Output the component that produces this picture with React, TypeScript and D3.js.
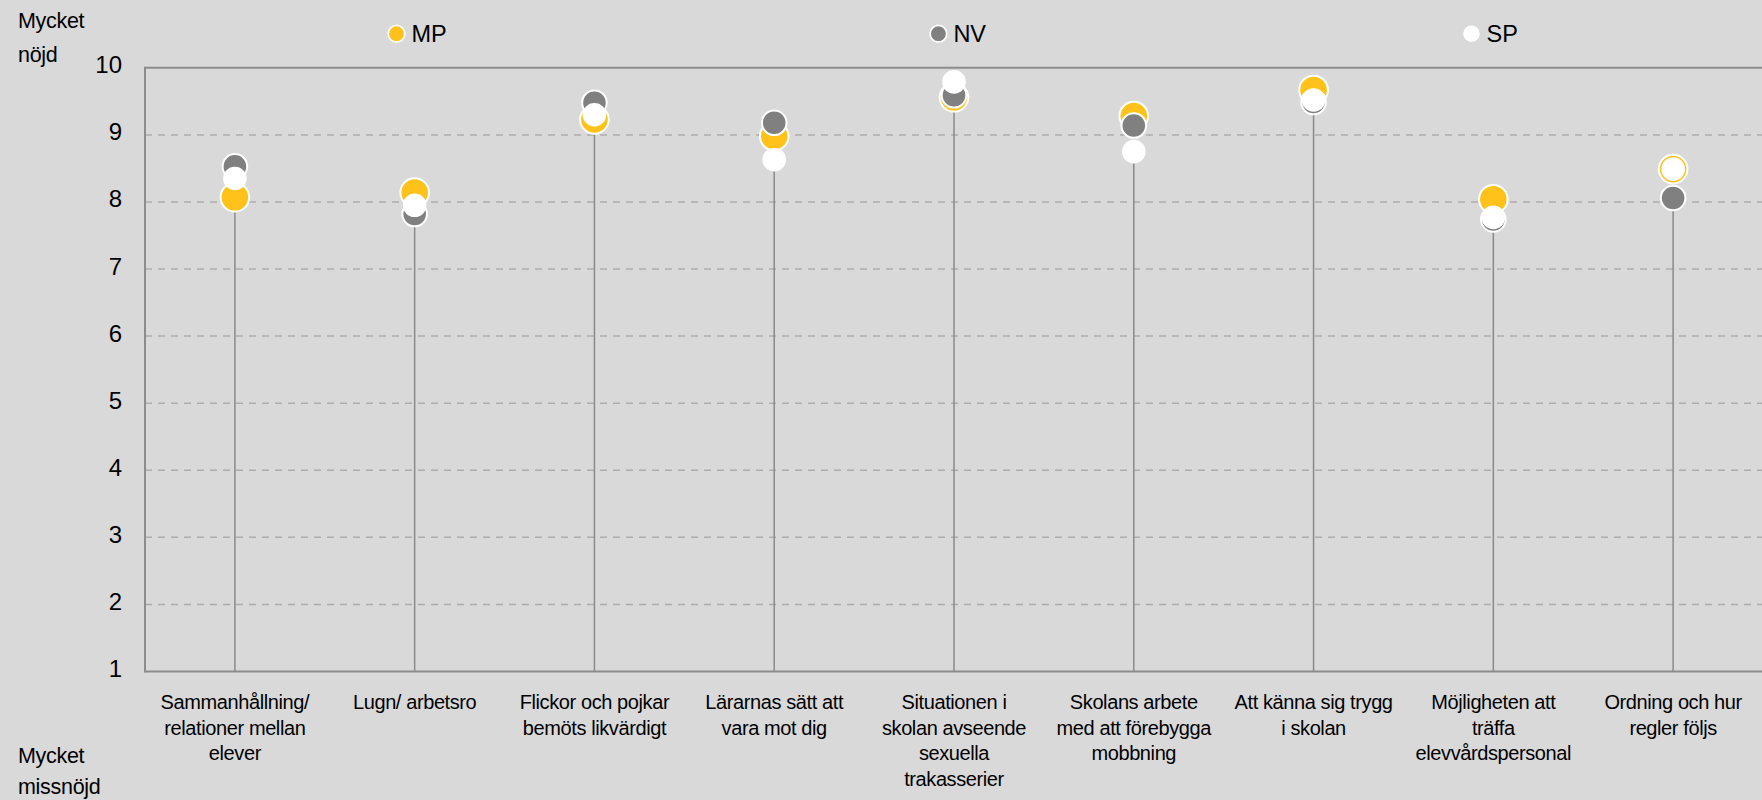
import React from "react";
import * as d3 from "d3";

const categories: string[][] = [
  ["Sammanhållning/", "relationer mellan", "elever"],
  ["Lugn/ arbetsro"],
  ["Flickor och pojkar", "bemöts likvärdigt"],
  ["Lärarnas sätt att", "vara mot dig"],
  ["Situationen i", "skolan avseende", "sexuella", "trakasserier"],
  ["Skolans arbete", "med att förebygga", "mobbning"],
  ["Att känna sig trygg", "i skolan"],
  ["Möjligheten att", "träffa", "elevvårdspersonal"],
  ["Ordning och hur", "regler följs"],
];

const mpValues = [8.07, 8.14, 9.23, 8.98, 9.56, 9.28, 9.67, 8.04, 8.49];
const nvValues = [8.53, 7.82, 9.48, 9.18, 9.59, 9.14, 9.49, 7.74, 8.06];
const spValues = [8.35, 7.95, 9.3, 8.63, 9.79, 8.75, 9.52, 7.77, 8.49];

const yTicks = [1, 2, 3, 4, 5, 6, 7, 8, 9, 10];

const seriesNames = ["MP", "NV", "SP"];
const seriesColors = ["#FFC21A", "#808080", "#FFFFFF"];

const W = 1762;
const H = 800;
const FONT = "'Liberation Sans', Arial, Helvetica, sans-serif";

export default function App() {
  const left = 145;
  const right = 1763;
  const top = 67.8;
  const bottom = 671.5;

  const keys = categories.map((c, i) => String(i));
  const x = d3.scaleBand<string>().domain(keys).range([left, right]).padding(0);
  const y = d3.scaleLinear().domain([1, 10]).range([bottom, top]);

  const series = [
    { name: seriesNames[0], values: mpValues, fill: seriesColors[0], r: 14.3, sw: 2 },
    { name: seriesNames[1], values: nvValues, fill: seriesColors[1], r: 12.3, sw: 2 },
    { name: seriesNames[2], values: spValues, fill: seriesColors[2], r: 11.8, sw: 0 },
  ];

  const legendX = [396.5, 938.4, 1471.5];

  return (
    <svg
      width={W}
      height={H}
      style={{ position: "absolute", left: 0, top: 0, display: "block" }}
      fontFamily={FONT}
    >
      <rect x={0} y={0} width={W} height={H} fill="#D9D9D9" />

      {/* gridlines */}
      {yTicks
        .filter((t) => t > 1 && t < 10)
        .map((t) => (
          <line
            key={"g" + t}
            x1={left}
            x2={right}
            y1={y(t)}
            y2={y(t)}
            stroke="#ADADAD"
            strokeWidth={1.5}
            strokeDasharray="7,6"
          />
        ))}

      {/* frame */}
      <line x1={left} x2={right} y1={y(10)} y2={y(10)} stroke="#8C8C8C" strokeWidth={2} />
      <line x1={left} x2={right} y1={y(1)} y2={y(1)} stroke="#8C8C8C" strokeWidth={2} />
      <line x1={left} x2={left} y1={y(10) - 1} y2={y(1) + 1} stroke="#8C8C8C" strokeWidth={2} />

      {/* y tick labels */}
      {yTicks.map((t) => (
        <text
          key={"yt" + t}
          x={122}
          y={y(t) - 3}
          textAnchor="end"
          dominantBaseline="central"
          fontSize={24}
          fill="#000"
        >
          {t}
        </text>
      ))}

      {/* stems */}
      {keys.map((k, i) => {
        const cx = (x(k) as number) + x.bandwidth() / 2;
        const minV = Math.min(mpValues[i], nvValues[i], spValues[i]);
        return (
          <line
            key={"s" + k}
            x1={cx}
            x2={cx}
            y1={y(1)}
            y2={y(minV)}
            stroke="#8A8A8A"
            strokeWidth={1.5}
          />
        );
      })}

      {/* markers */}
      {series.map((s) =>
        s.values.map((v, i) => {
          const cx = (x(keys[i]) as number) + x.bandwidth() / 2;
          return (
            <circle
              key={s.name + i}
              cx={cx}
              cy={y(v)}
              r={s.r}
              fill={s.fill}
              stroke="#FFFFFF"
              strokeWidth={s.sw}
            />
          );
        })
      )}

      {/* category labels */}
      {keys.map((k, i) => {
        const cx = (x(k) as number) + x.bandwidth() / 2;
        return (
          <text
            key={"c" + k}
            textAnchor="middle"
            fontSize={20}
            letterSpacing={-0.4}
            fill="#000"
          >
            {categories[i].map((line, j) => (
              <tspan key={j} x={cx} y={709 + j * 25.6}>
                {line}
              </tspan>
            ))}
          </text>
        );
      })}

      {/* axis end captions */}
      <text x={18} y={27.7} fontSize={21.5} fill="#000" letterSpacing={-0.3}>Mycket</text>
      <text x={18} y={61.7} fontSize={21.5} fill="#000" letterSpacing={-0.3}>nöjd</text>
      <text x={18} y={763} fontSize={21.5} fill="#000" letterSpacing={-0.3}>Mycket</text>
      <text x={18} y={794} fontSize={21.5} fill="#000" letterSpacing={-0.3}>missnöjd</text>

      {/* legend */}
      {series.map((s, i) => (
        <g key={"l" + s.name}>
          <circle
            cx={legendX[i]}
            cy={33.7}
            r={8.3}
            fill={s.fill}
            stroke="#FFFFFF"
            strokeWidth={s.sw ? 1.8 : 0}
          />
          <text x={legendX[i] + 15} y={41.5} fontSize={23.5} fill="#000">
            {s.name}
          </text>
        </g>
      ))}
    </svg>
  );
}
